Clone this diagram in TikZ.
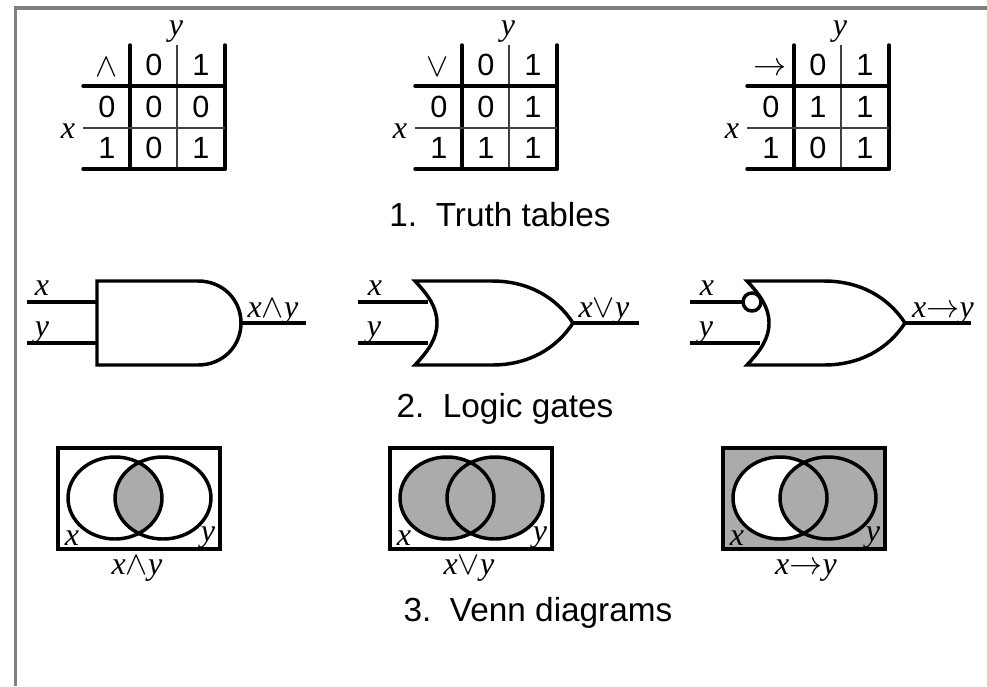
\documentclass[tikz,border=0pt]{standalone}
\usepackage{fontspec}
\setmainfont{Liberation Sans}
\newfontfamily\serifit[ItalicFont=Liberation Serif Italic]{Liberation Serif}
\newcommand{\vx}{{\serifit\itshape x}}
\newcommand{\vy}{{\serifit\itshape y}}
\definecolor{framegray}{rgb}{0.5,0.5,0.5}
\definecolor{venngray}{rgb}{0.67,0.67,0.67}
\tikzset{every picture/.style={line width=0.75pt},
  thickrule/.style={line width=2.6pt,line cap=round},
  thinrule/.style={line width=1pt,color=black!75},
  wire/.style={line width=2.6pt},
  gate/.style={line width=2.6pt,line join=miter},
  venn/.style={line width=2.6pt},
  cell/.style={anchor=base,inner sep=0.75pt,font=\fontsize{23}{27}\selectfont},
  varlabel/.style={anchor=base,inner sep=0.75pt,font=\fontsize{24}{28}\selectfont},
  caption/.style={anchor=base,inner sep=0.75pt,font=\fontsize{25}{30}\selectfont}}

\begin{document}
\begin{tikzpicture}[x=0.75pt,y=0.75pt,yscale=-1,xscale=1]
\useasboundingbox (0,0) rectangle (987,686);

%Frame
\draw [color=framegray,line width=2.4pt] (15.5,686) -- (15.5,8) -- (987,8) ;

%Truth table: and
\draw [thickrule] (130,45) -- (130,169) ;
\draw [thinrule] (177,45) -- (177,169) ;
\draw [thickrule] (225,45) -- (225,169) ;
\draw [thickrule] (83,86) -- (225,86) ;
\draw [thinrule] (83,128) -- (225,128) ;
\draw [thickrule] (83,169) -- (225,169) ;
%Truth table: or
\draw [thickrule] (462,45) -- (462,169) ;
\draw [thinrule] (509,45) -- (509,169) ;
\draw [thickrule] (557,45) -- (557,169) ;
\draw [thickrule] (415,86) -- (557,86) ;
\draw [thinrule] (415,128) -- (557,128) ;
\draw [thickrule] (415,169) -- (557,169) ;
%Truth table: implies
\draw [thickrule] (794,45) -- (794,169) ;
\draw [thinrule] (841,45) -- (841,169) ;
\draw [thickrule] (889,45) -- (889,169) ;
\draw [thickrule] (747,86) -- (889,86) ;
\draw [thinrule] (747,128) -- (889,128) ;
\draw [thickrule] (747,169) -- (889,169) ;

% Text Node
\draw (176,35) node (andTop) [varlabel] {\vy};
\draw (68,138) node (andSide) [varlabel] {\vx};
\draw (107,76) node (andOp) [cell] {$\wedge$};
\draw (154,75) node (andHa) [cell] {0};
\draw (201,75) node (andHb) [cell] {1};
\draw (107,117) node (andRa) [cell] {0};
\draw (154,117) node (andAa) [cell] {0};
\draw (201,117) node (andAb) [cell] {0};
\draw (107,158) node (andRb) [cell] {1};
\draw (154,158) node (andBa) [cell] {0};
\draw (201,158) node (andBb) [cell] {1};
% Text Node
\draw (508,35) node (orTop) [varlabel] {\vy};
\draw (400,138) node (orSide) [varlabel] {\vx};
\draw (438,76) node (orOp) [cell] {$\vee$};
\draw (486,75) node (orHa) [cell] {0};
\draw (533,75) node (orHb) [cell] {1};
\draw (439,117) node (orRa) [cell] {0};
\draw (486,117) node (orAa) [cell] {0};
\draw (533,117) node (orAb) [cell] {1};
\draw (439,158) node (orRb) [cell] {1};
\draw (486,158) node (orBa) [cell] {1};
\draw (533,158) node (orBb) [cell] {1};
% Text Node
\draw (840,35) node (impTop) [varlabel] {\vy};
\draw (732,138) node (impSide) [varlabel] {\vx};
\draw (770,75) node (impOp) [cell] {$\rightarrow$};
\draw (818,75) node (impHa) [cell] {0};
\draw (865,75) node (impHb) [cell] {1};
\draw (771,117) node (impRa) [cell] {0};
\draw (818,117) node (impAa) [cell] {1};
\draw (865,117) node (impAb) [cell] {1};
\draw (771,158) node (impRb) [cell] {1};
\draw (818,158) node (impBa) [cell] {0};
\draw (865,158) node (impBb) [cell] {1};
% Text Node
\draw (500,226) node (capTables) [caption] {1.\ \ Truth tables};

%Shape: And gate
\draw [gate] (97,281) -- (198,281) .. controls (223,281) and (241,300) .. (241,323) .. controls (241,346) and (223,365) .. (198,365) -- (97,365) -- cycle ;
\coordinate (andInX) at (27,302);
\coordinate (andGateX) at (97,302);
\coordinate (andInY) at (27,343);
\coordinate (andGateY) at (97,343);
\coordinate (andTip) at (241,323);
\coordinate (andOut) at (306,323);
\draw [wire] (andInX) -- (andGateX) ;
\draw [wire] (andInY) -- (andGateY) ;
\draw [wire] (andTip) -- (andOut) ;
\draw (42,295) node (andGx) [varlabel] {\vx};
\draw (42,336) node (andGy) [varlabel] {\vy};
\draw (273,317) node (andGo) [varlabel] {\vx$\wedge$\vy};

%Shape: Or gate
\draw [gate] (415,281) -- (492,281) .. controls (528,281) and (556,297) .. (573,323) .. controls (556,349) and (528,365) .. (492,365) -- (415,365) .. controls (428,351) and (437,339) .. (437,323) .. controls (437,307) and (428,295) .. (415,281) -- cycle ;
\coordinate (orInX) at (358,302);
\coordinate (orGateX) at (428,302);
\coordinate (orInY) at (358,343);
\coordinate (orGateY) at (428,343);
\coordinate (orTip) at (573,323);
\coordinate (orOut) at (639,323);
\draw [wire] (orInX) -- (orGateX) ;
\draw [wire] (orInY) -- (orGateY) ;
\draw [wire] (orTip) -- (orOut) ;
\draw (375,295) node (orGx) [varlabel] {\vx};
\draw (374,336) node (orGy) [varlabel] {\vy};
\draw (604,317) node (orGo) [varlabel] {\vx$\vee$\vy};

%Shape: Implies gate
\draw [gate] (747,281) -- (824,281) .. controls (860,281) and (888,297) .. (905,323) .. controls (888,349) and (860,365) .. (824,365) -- (747,365) .. controls (760,351) and (769,339) .. (769,323) .. controls (769,307) and (760,295) .. (747,281) -- cycle ;
\coordinate (impInX) at (690,302);
\coordinate (impInY) at (690,343);
\coordinate (impGateY) at (760,343);
\coordinate (impTip) at (905,323);
\coordinate (impOut) at (971,323);
\draw [gate,fill=white] (752,302) circle (9) ;
\coordinate (impBubble) at (743,302);
\draw [wire] (impInX) -- (impBubble) ;
\draw [wire] (impInY) -- (impGateY) ;
\draw [wire] (impTip) -- (impOut) ;
\draw (707,295) node (impGx) [varlabel] {\vx};
\draw (706,336) node (impGy) [varlabel] {\vy};
\draw (943,317) node (impGo) [varlabel] {\vx$\rightarrow$\vy};
% Text Node
\draw (505,417) node (capGates) [caption] {2.\ \ Logic gates};

%Shape: Venn and
\begin{scope}
\clip (115,498) ellipse (47 and 41);
\fill [venngray] (163,498) ellipse (48 and 41);
\end{scope}
\draw [venn] (58,448) rectangle (220,549) ;
\draw [venn] (115,498) ellipse (47 and 41) ;
\draw [venn] (163,498) ellipse (48 and 41) ;
\draw (72,545) node (vennAx) [varlabel] {\vx};
\draw (208,541) node (vennAy) [varlabel] {\vy};
\draw (137,574) node (vennAo) [varlabel] {\vx$\wedge$\vy};

%Shape: Venn or
\fill [venngray] (447,498) ellipse (47 and 41);
\fill [venngray] (495,498) ellipse (48 and 41);
\draw [venn] (390,448) rectangle (552,549) ;
\draw [venn] (447,498) ellipse (47 and 41) ;
\draw [venn] (495,498) ellipse (48 and 41) ;
\draw (404,545) node (vennBx) [varlabel] {\vx};
\draw (540,541) node (vennBy) [varlabel] {\vy};
\draw (469,574) node (vennBo) [varlabel] {\vx$\vee$\vy};

%Shape: Venn implies
\fill [venngray] (723,448) rectangle (885,549);
\fill [white] (780,498) ellipse (47 and 41);
\begin{scope}
\clip (780,498) ellipse (47 and 41);
\fill [venngray] (828,498) ellipse (48 and 41);
\end{scope}
\draw [venn] (723,448) rectangle (885,549) ;
\draw [venn] (780,498) ellipse (47 and 41) ;
\draw [venn] (828,498) ellipse (48 and 41) ;
\draw (737,545) node (vennCx) [varlabel] {\vx};
\draw (873,541) node (vennCy) [varlabel] {\vy};
\draw (806,574) node (vennCo) [varlabel] {\vx$\rightarrow$\vy};
% Text Node
\draw (538,621) node (capVenn) [caption] {3.\ \ Venn diagrams};

\end{tikzpicture}
\end{document}
